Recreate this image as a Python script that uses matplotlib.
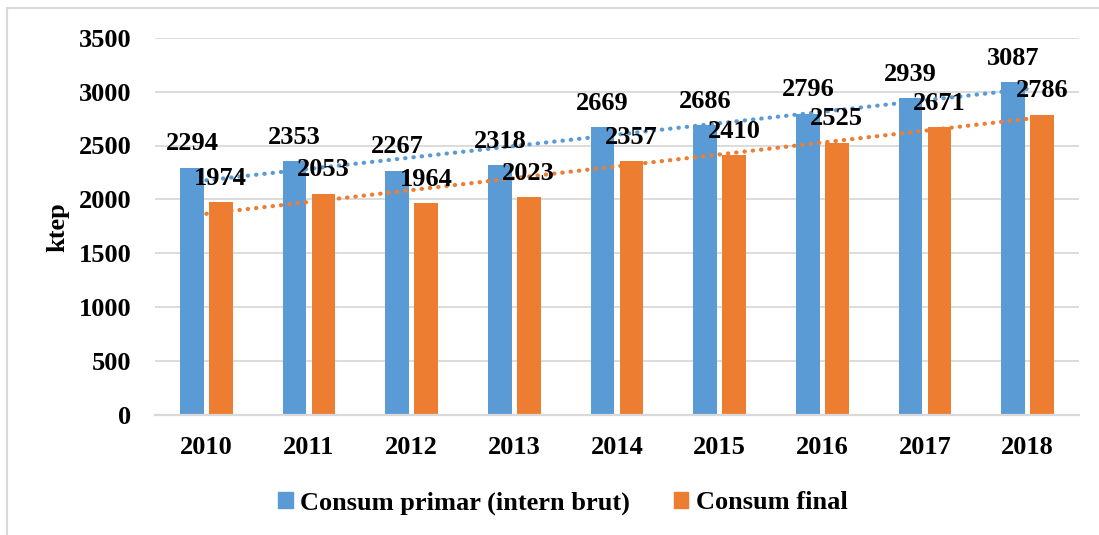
import numpy as np
import matplotlib
matplotlib.use("Agg")
import matplotlib.pyplot as plt
from matplotlib.patches import Patch
from matplotlib.lines import Line2D

years = ["2010", "2011", "2012", "2013", "2014", "2015", "2016", "2017", "2018"]
primar = [2294, 2353, 2267, 2318, 2669, 2686, 2796, 2939, 3087]
final = [1974, 2053, 1964, 2023, 2357, 2410, 2525, 2671, 2786]
series_names = ["Consum primar (intern brut)", "Consum final"]
yticks = [0, 500, 1000, 1500, 2000, 2500, 3000, 3500]

BLUE = "#5B9BD5"
ORANGE = "#ED7D31"
GRID = "#D9D9D9"
FS = 19

plt.rcParams['font.family'] = ['Liberation Serif', 'DejaVu Serif']
plt.rcParams['font.weight'] = 'bold'

fig = plt.figure(figsize=(10.99, 5.35), dpi=100)
ax = fig.add_axes([155/1099, 1-415/535, (1079-155)/1099, (415-37.7)/535])

x = np.arange(len(years))
w = 0.23
off = 0.14
b1 = ax.bar(x - off, primar, w, color=BLUE, zorder=2)
b2 = ax.bar(x + off, final, w, color=ORANGE, zorder=2)

# linear trendlines
for vals, col in [(primar, BLUE), (final, ORANGE)]:
    xx = x + 1
    k, c = np.polyfit(xx, vals, 1)
    ax.plot(x, k * xx + c, color=col, lw=3.0, linestyle=(0, (0.1, 1.9)),
            dash_capstyle='round', zorder=3)

for bars, vals in [(b1, primar), (b2, final)]:
    for r, v in zip(bars, vals):
        ax.annotate(str(v), (r.get_x() + r.get_width()/2, v),
                    xytext=(0, 12.5), textcoords='offset points',
                    ha='center', va='baseline', fontsize=FS, fontweight='bold',
                    zorder=5, annotation_clip=False)

ax.set_xlim(-0.5, len(years) - 0.5)
ax.set_ylim(0, 3500)
ax.set_yticks(yticks)
ax.set_yticklabels([str(t) for t in yticks], fontsize=FS, fontweight='bold')
ax.set_xticks(x)
ax.set_xticklabels(years, fontsize=FS, fontweight='bold')
ax.tick_params(axis='both', length=0)
ax.tick_params(axis='y', pad=17)
ax.tick_params(axis='x', pad=15)
ax.grid(axis='y', color=GRID, lw=1.3, zorder=0)
ax.set_axisbelow(True)
for s in ['top', 'right', 'left']:
    ax.spines[s].set_visible(False)
ax.spines['bottom'].set_color(GRID)
ax.spines['bottom'].set_linewidth(1.6)

fig.text(58/1099, 1-227/535, "ktep", rotation=90, ha='center', va='center',
         fontsize=FS, fontweight='bold')

handles = [Patch(color=BLUE), Patch(color=ORANGE)]
fig.legend(handles, series_names, loc='center', bbox_to_anchor=(563/1099, 1-503/535),
           ncol=2, frameon=False, prop={'size': FS, 'weight': 'bold'},
           handlelength=0.55, handleheight=0.55, handletextpad=0.3, columnspacing=1.65)

# chart area frame
fig.add_artist(Line2D([7/1099, 7/1099], [0, 1-8/535], transform=fig.transFigure,
                      color=GRID, lw=1.5))
fig.add_artist(Line2D([7/1099, 1], [1-8/535, 1-8/535], transform=fig.transFigure,
                      color=GRID, lw=1.5))

fig.savefig("out.png", dpi=100)
